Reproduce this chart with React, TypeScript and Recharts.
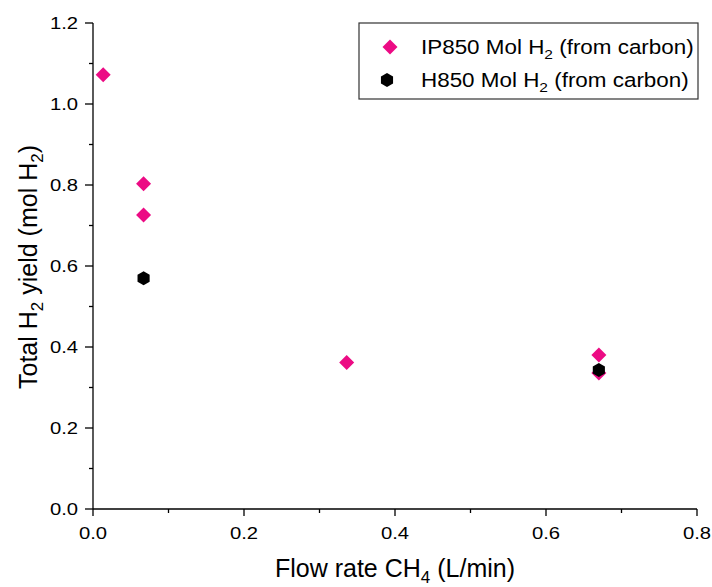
import React from 'react';
import { ScatterChart, Scatter, XAxis, YAxis } from 'recharts';

// flow rate CH4 (L/min) and total H2 yield (mol H2)
const ip850Flow = [0.0135, 0.067, 0.067, 0.336, 0.67, 0.67];
const ip850Yield = [1.072, 0.803, 0.726, 0.362, 0.38, 0.336];
const h850Flow = [0.067, 0.67];
const h850Yield = [0.57, 0.343];

const xTicks = [0, 0.1, 0.2, 0.3, 0.4, 0.5, 0.6, 0.7, 0.8];
const yTicks = [0, 0.1, 0.2, 0.3, 0.4, 0.5, 0.6, 0.7, 0.8, 0.9, 1.0, 1.1, 1.2];

const seriesNames = ['IP850 Mol H', 'H850 Mol H'];

const PINK = '#EC0B84';
const FONT = 'Arial, "Liberation Sans", sans-serif';

const ip850 = ip850Flow.map((x, i) => ({ x, y: ip850Yield[i] }));
const h850 = h850Flow.map((x, i) => ({ x, y: h850Yield[i] }));

const isMajor = (v: number) => Math.round(v * 10) % 2 === 0;

const XTick = (props: any) => {
  const { x, y, payload } = props;
  const major = isMajor(payload.value);
  return (
    <g>
      <line x1={x} x2={x} y1={y} y2={y + (major ? 7 : 4)} stroke="#000" strokeWidth={1.3} />
      {major && (
        <text
          transform={`translate(${x},${y + 30}) scale(1.19,1)`}
          textAnchor="middle"
          fontSize={17}
          fontFamily={FONT}
          fill="#000"
        >
          {payload.value.toFixed(1)}
        </text>
      )}
    </g>
  );
};

const YTick = (props: any) => {
  const { x, y, payload } = props;
  const major = isMajor(payload.value);
  return (
    <g>
      <line x1={x} x2={x - (major ? 8 : 4)} y1={y} y2={y} stroke="#000" strokeWidth={1.3} />
      {major && (
        <text
          transform={`translate(${x - 15},${y + 6}) scale(1.19,1)`}
          textAnchor="end"
          fontSize={17}
          fontFamily={FONT}
          fill="#000"
        >
          {payload.value.toFixed(1)}
        </text>
      )}
    </g>
  );
};

const Diamond = (props: any) => {
  const { cx, cy } = props;
  const r = 7.5;
  return <polygon points={`${cx},${cy - r} ${cx + r},${cy} ${cx},${cy + r} ${cx - r},${cy}`} fill={PINK} />;
};

const Hexagon = (props: any) => {
  const { cx, cy } = props;
  const r = 7;
  const pts = [0, 1, 2, 3, 4, 5]
    .map((k) => {
      const a = (Math.PI / 3) * k - Math.PI / 2;
      return `${cx + r * Math.cos(a)},${cy + r * Math.sin(a)}`;
    })
    .join(' ');
  return <polygon points={pts} fill="#000" />;
};

const LegendBox = () => (
  <svg width={341} height={78} style={{ position: 'absolute', left: 358, top: 22 }}>
    <rect x={1} y={1} width={339} height={76} fill="#fff" stroke="#333" strokeWidth={1.2} />
    {seriesNames.map((name, i) => {
      const cy = 25 + i * 33;
      return (
        <g key={name}>
          {i === 0 ? <Diamond cx={32} cy={cy} /> : <Hexagon cx={29} cy={cy} />}
          <text
            transform={`translate(63,${cy + 7}) scale(1.15,1)`}
            fontSize={19.5}
            fontFamily={FONT}
            fill="#000"
          >
            {name}
            <tspan fontSize={13.5} dy={5}>2</tspan>
            <tspan dy={-5}> (from carbon)</tspan>
          </text>
        </g>
      );
    })}
  </svg>
);

export default function App() {
  return (
    <div style={{ position: 'relative', width: 712, height: 587, background: '#fff' }}>
      <style>{'body{margin:0}'}</style>
      <ScatterChart width={712} height={587} margin={{ top: 23, right: 15, bottom: 18, left: 33 }}>
        <XAxis
          type="number"
          dataKey="x"
          domain={[0, 0.8]}
          ticks={xTicks}
          interval={0}
          tickSize={0}
          tickMargin={0}
          tick={<XTick />}
          height={60}
          stroke="#000"
          strokeWidth={1.3}
          label={({ viewBox }: any) => (
            <text
              x={viewBox.x + viewBox.width / 2}
              y={viewBox.y + 68}
              textAnchor="middle"
              fontSize={25}
              fontFamily={FONT}
              fill="#000"
            >
              Flow rate CH
              <tspan fontSize={17} dy={6}>4</tspan>
              <tspan dy={-6}> (L/min)</tspan>
            </text>
          )}
        />
        <YAxis
          type="number"
          dataKey="y"
          domain={[0, 1.2]}
          ticks={yTicks}
          interval={0}
          tickSize={0}
          tickMargin={0}
          tick={<YTick />}
          width={60}
          stroke="#000"
          strokeWidth={1.3}
          label={() => {
            const cx = 37;
            const cy = 267;
            return (
              <text
                x={cx}
                y={cy}
                transform={`rotate(-90 ${cx} ${cy})`}
                textAnchor="middle"
                fontSize={25}
                fontFamily={FONT}
                fill="#000"
              >
                Total H
                <tspan fontSize={17} dy={6}>2</tspan>
                <tspan dy={-6}> yield (mol H</tspan>
                <tspan fontSize={17} dy={6}>2</tspan>
                <tspan dy={-6}>)</tspan>
              </text>
            );
          }}
        />
        <Scatter name="IP850" data={ip850} shape={<Diamond />} fill={PINK} isAnimationActive={false} />
        <Scatter name="H850" data={h850} shape={<Hexagon />} fill="#000" isAnimationActive={false} />
      </ScatterChart>
      <LegendBox />
    </div>
  );
}
